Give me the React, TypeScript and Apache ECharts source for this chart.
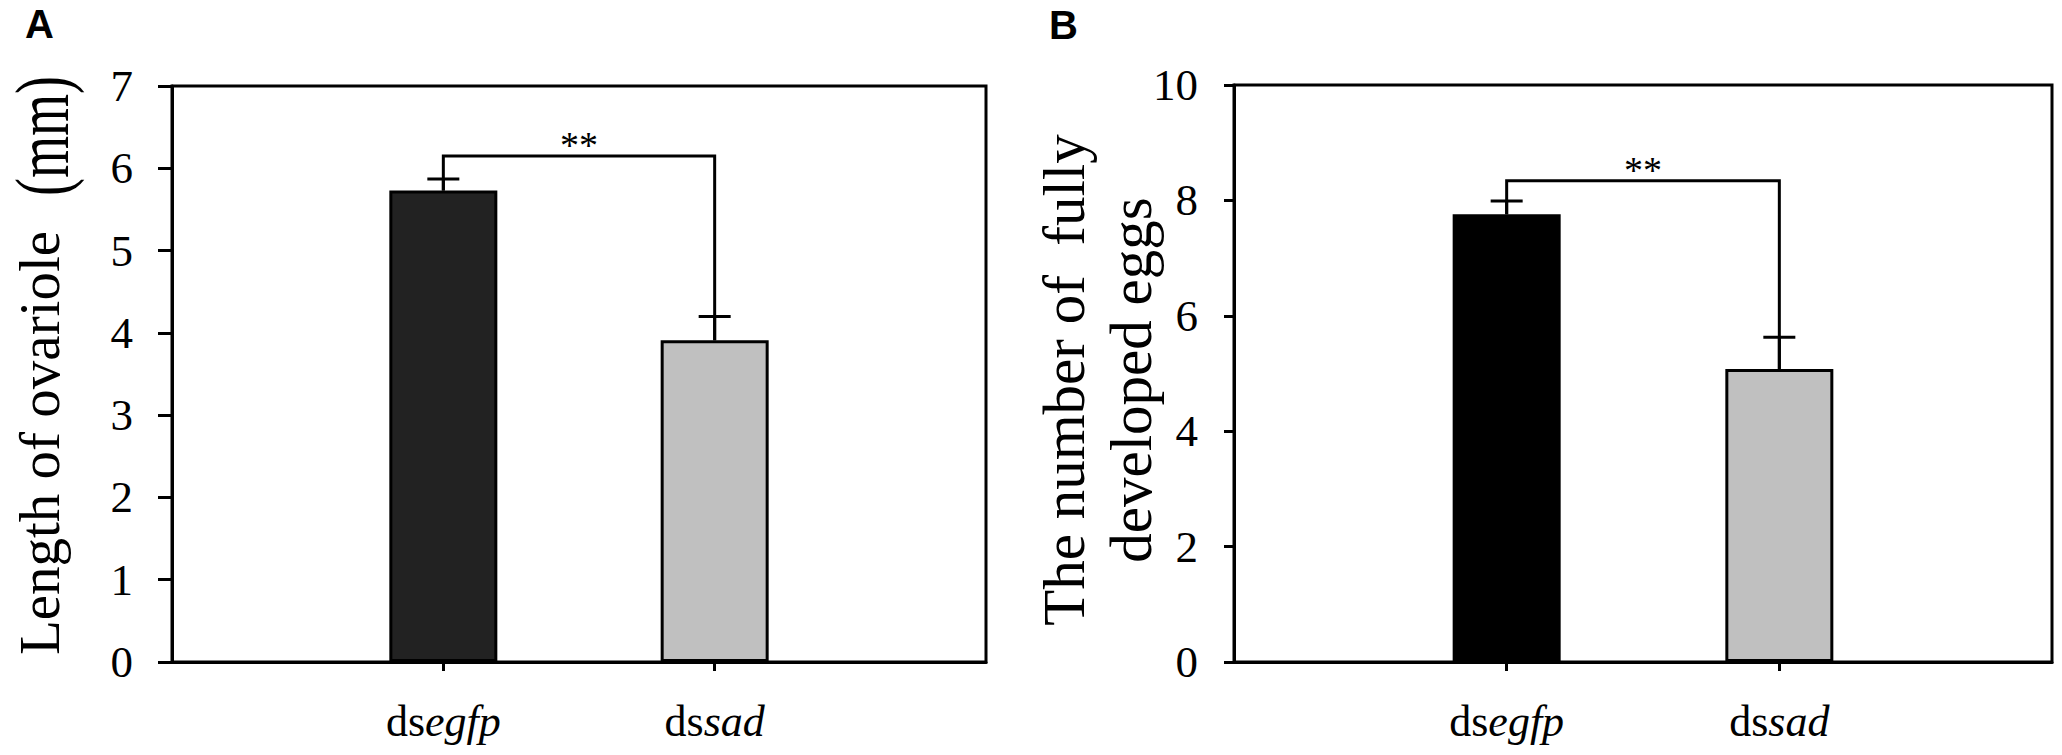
import React, { useEffect, useRef } from "react";
import * as echarts from "echarts";

// Panel A: length of ovariole (mm)
const categoriesA = ["dsegfp", "dssad"];
const meanA = [5.73, 3.91];
const errTopA = [5.87, 4.2];
const bracketA = 6.15;
const yTicksA = { min: 0, max: 7, interval: 1 };

// Panel B: number of fully developed eggs
const categoriesB = ["dsegfp", "dssad"];
const meanB = [7.76, 5.08];
const errTopB = [7.99, 5.63];
const bracketB = 8.34;
const yTicksB = { min: 0, max: 10, interval: 2 };

const barColors = ["#222222", "#c0c0c0"];
const barColorsB = ["#000000", "#c0c0c0"];

const SERIF = "Liberation Serif";
const SANS = "Liberation Sans";

function buildPanel(idx: number, cats: string[], means: number[], tops: number[], bracket: number, colors: string[], yt: any, labelMargin: number, tickLen: number) {
  const xData = ["", ...cats, ""];
  const xAxis = {
    type: "category",
    gridIndex: idx,
    data: xData,
    boundaryGap: false,
    axisLine: { show: true, lineStyle: { color: "#000", width: 3 } },
    axisTick: {
      show: true,
      length: 9,
      lineStyle: { color: "#000", width: 3 },
      interval: (i: number) => i > 0 && i < xData.length - 1,
    },
    axisLabel: {
      interval: (i: number) => i > 0 && i < xData.length - 1,
      margin: 37,
      color: "#000",
      fontFamily: SERIF,
      fontSize: 44,
      formatter: (v: string) => (v ? `{r|${v.slice(0, 2)}}{i|${v.slice(2)}}` : ""),
      rich: {
        r: { fontFamily: SERIF, fontSize: 44, color: "#000", lineHeight: 44 },
        i: { fontFamily: SERIF, fontSize: 44, fontStyle: "italic", color: "#000", lineHeight: 44 },
      },
    },
    splitLine: { show: false },
  };
  const yAxis = {
    type: "value",
    gridIndex: idx,
    min: yt.min,
    max: yt.max,
    interval: yt.interval,
    axisLine: { show: true, lineStyle: { color: "#000", width: 3 } },
    axisTick: { show: true, inside: false, length: tickLen, lineStyle: { color: "#000", width: 3 } },
    axisLabel: { fontFamily: SERIF, fontSize: 45, color: "#000", margin: labelMargin },
    splitLine: { show: false },
  };
  const barData: any[] = ["-", ...means.map((m, k) => ({ value: m, itemStyle: { color: colors[k] } })), "-"];
  const series: any[] = [
    {
      type: "bar",
      xAxisIndex: idx,
      yAxisIndex: idx,
      data: barData,
      barWidth: 108,
      itemStyle: { borderColor: "#000", borderWidth: 3 },
      z: 2,
    },
    {
      type: "custom",
      xAxisIndex: idx,
      yAxisIndex: idx,
      data: means.map((m, k) => [k + 1, m, tops[k]]),
      encode: { x: 0, y: 2 },
      z: 3,
      renderItem: (params: any, api: any) => {
        const x = api.value(0);
        const p0 = api.coord([x, api.value(1)]);
        const p1 = api.coord([x, api.value(2)]);
        const st = { stroke: "#000", lineWidth: 3 };
        return {
          type: "group",
          children: [
            { type: "line", shape: { x1: p0[0], y1: p0[1], x2: p1[0], y2: p1[1] }, style: st },
            { type: "line", shape: { x1: p1[0] - 16, y1: p1[1], x2: p1[0] + 16, y2: p1[1] }, style: st },
          ],
        };
      },
    },
    {
      type: "custom",
      xAxisIndex: idx,
      yAxisIndex: idx,
      data: [[1, 2, means[0], means[1], bracket]],
      encode: { x: 0, y: 4 },
      z: 3,
      renderItem: (params: any, api: any) => {
        const a = api.coord([api.value(0), api.value(2)]);
        const b = api.coord([api.value(0), api.value(4)]);
        const c = api.coord([api.value(1), api.value(4)]);
        const d = api.coord([api.value(1), api.value(3)]);
        return {
          type: "group",
          children: [
            {
              type: "polyline",
              shape: { points: [a, b, c, d] },
              style: { stroke: "#000", lineWidth: 3, fill: "none" },
            },
            {
              type: "text",
              style: {
                text: "**",
                x: (b[0] + c[0]) / 2,
                y: b[1] - 11,
                align: "center",
                verticalAlign: "middle",
                fontSize: 38,
                fontFamily: SERIF,
                fill: "#000",
              },
            },
          ],
        };
      },
    },
  ];
  return { xAxis, yAxis, series };
}

export default function App() {
  const ref = useRef<HTMLDivElement>(null);
  useEffect(() => {
    document.body.style.margin = "0";
    if (!ref.current) return;
    const chart = echarts.init(ref.current, undefined, { renderer: "svg" });
    const pA = buildPanel(0, categoriesA, meanA, errTopA, bracketA, barColors, yTicksA, 39, 14);
    const pB = buildPanel(1, categoriesB, meanB, errTopB, bracketB, barColorsB, yTicksB, 36, 10);
    chart.setOption({
      animation: false,
      backgroundColor: "#fff",
      grid: [
        { left: 172, top: 86, width: 814, height: 576, show: true, borderColor: "#000", borderWidth: 3, backgroundColor: "transparent" },
        { left: 1234, top: 85, width: 818, height: 577, show: true, borderColor: "#000", borderWidth: 3, backgroundColor: "transparent" },
      ],
      xAxis: [pA.xAxis, pB.xAxis],
      yAxis: [pA.yAxis, pB.yAxis],
      series: [...pA.series, ...pB.series],
      graphic: [
        {
          type: "text",
          x: 25,
          y: 24,
          style: { text: "A", fontSize: 40, fontWeight: "bold", fontFamily: SANS, fill: "#000", verticalAlign: "middle", align: "left" },
        },
        {
          type: "text",
          x: 1049,
          y: 25,
          style: { text: "B", fontSize: 40, fontWeight: "bold", fontFamily: SANS, fill: "#000", verticalAlign: "middle", align: "left" },
        },
        {
          type: "text",
          x: 39,
          y: 443,
          rotation: Math.PI / 2,
          style: {
            text: "Length of ovariole",
            align: "center",
            verticalAlign: "middle",
            fontSize: 57,
            fontFamily: SERIF,
            fill: "#000",
          },
        },
        {
          type: "text",
          x: 42,
          y: 136,
          rotation: Math.PI / 2,
          scaleX: 1,
          scaleY: 1.4,
          style: {
            text: "(mm)",
            align: "center",
            verticalAlign: "middle",
            fontSize: 54,
            fontFamily: SERIF,
            fill: "#000",
          },
        },
        {
          type: "text",
          x: 1097,
          y: 380,
          rotation: Math.PI / 2,
          style: {
            text: "The number of  fully\ndeveloped eggs",
            align: "center",
            verticalAlign: "middle",
            fontSize: 59,
            lineHeight: 67,
            fontFamily: SERIF,
            fill: "#000",
          },
        },
      ],
    });
    return () => chart.dispose();
  }, []);
  return <div ref={ref} style={{ width: 2062, height: 755 }} />;
}
